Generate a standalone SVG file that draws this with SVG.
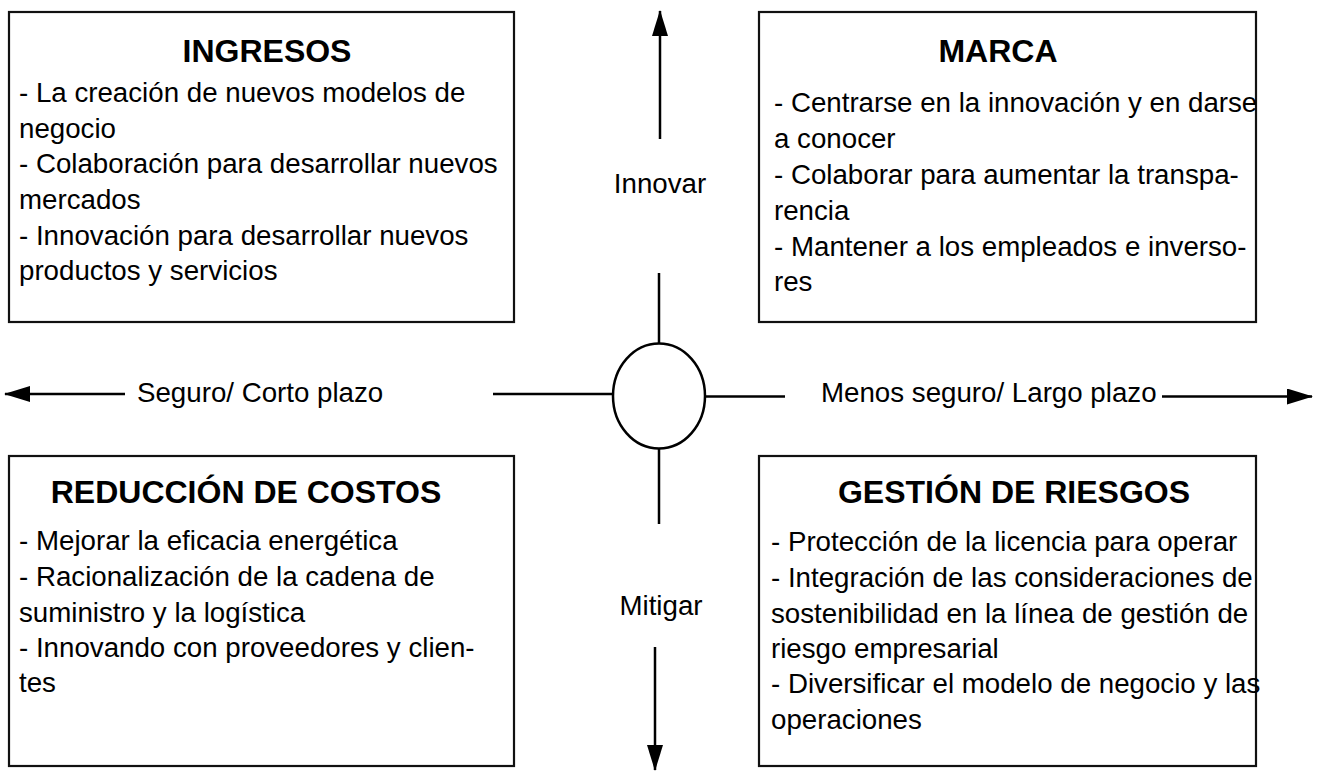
<svg xmlns="http://www.w3.org/2000/svg" width="1325" height="771" viewBox="0 0 1325 771">
<style>
.box{fill:#fff;stroke:#111;stroke-width:2.2}
.t{font-family:"Liberation Sans",Arial,sans-serif;font-weight:bold;font-size:32px;fill:#000;text-anchor:middle}
.b{font-family:"Liberation Sans",Arial,sans-serif;font-size:27.7px;fill:#000}
.lbl{font-family:"Liberation Sans",Arial,sans-serif;font-size:27.7px;fill:#000}
.ln{stroke:#000;stroke-width:2.5;fill:none}
</style>
<defs>
<marker id="ah" markerUnits="userSpaceOnUse" markerWidth="26" markerHeight="16" refX="25" refY="8" orient="auto">
<path d="M0,0 L26,8 L0,16 Z" fill="#000"/>
</marker>
</defs>
<rect width="1325" height="771" fill="#fff"/>
<g id="ingresos">
<rect class="box" x="9" y="12" width="505" height="310"/>
<text class="t" x="267" y="62">INGRESOS</text>
<text class="b" x="19" y="102">- La creación de nuevos modelos de</text>
<text class="b" x="19" y="137.5">negocio</text>
<text class="b" x="19" y="173">- Colaboración para desarrollar nuevos</text>
<text class="b" x="19" y="209">mercados</text>
<text class="b" x="19" y="244.5">- Innovación para desarrollar nuevos</text>
<text class="b" x="19" y="280">productos y servicios</text>
</g>
<g id="marca">
<rect class="box" x="759" y="12" width="497" height="310"/>
<text class="t" x="998" y="62">MARCA</text>
<text class="b" x="774" y="112">- Centrarse en la innovación y en darse</text>
<text class="b" x="774" y="148">a conocer</text>
<text class="b" x="774" y="184">- Colaborar para aumentar la transpa-</text>
<text class="b" x="774" y="220">rencia</text>
<text class="b" x="774" y="256">- Mantener a los empleados e inverso-</text>
<text class="b" x="774" y="291">res</text>
</g>
<g id="reduccion">
<rect class="box" x="9" y="456" width="505" height="310"/>
<text class="t" x="246" y="503">REDUCCIÓN DE COSTOS</text>
<text class="b" x="19" y="550">- Mejorar la eficacia energética</text>
<text class="b" x="19" y="586">- Racionalización de la cadena de</text>
<text class="b" x="19" y="622">suministro y la logística</text>
<text class="b" x="19" y="657">- Innovando con proveedores y clien-</text>
<text class="b" x="19" y="692">tes</text>
</g>
<g id="gestion">
<rect class="box" x="759" y="456" width="497" height="310"/>
<text class="t" x="1014" y="503">GESTIÓN DE RIESGOS</text>
<text class="b" x="771" y="551">- Protección de la licencia para operar</text>
<text class="b" x="771" y="587">- Integración de las consideraciones de</text>
<text class="b" x="771" y="623">sostenibilidad en la línea de gestión de</text>
<text class="b" x="771" y="658">riesgo empresarial</text>
<text class="b" x="771" y="693">- Diversificar el modelo de negocio y las</text>
<text class="b" x="771" y="729">operaciones</text>
</g>
<g id="centro">
<ellipse cx="659" cy="396" rx="46" ry="52.5" fill="#fff" stroke="#000" stroke-width="2.5"/>
</g>
<g id="connectors">
<line class="ln" x1="660" y1="139" x2="660" y2="11" marker-end="url(#ah)"/>
<line class="ln" x1="659" y1="273" x2="659" y2="344"/>
<line class="ln" x1="659" y1="449" x2="659" y2="524"/>
<line class="ln" x1="655" y1="647" x2="655" y2="770" marker-end="url(#ah)"/>
<line class="ln" x1="125" y1="394" x2="5" y2="394" marker-end="url(#ah)"/>
<line class="ln" x1="493" y1="394" x2="613" y2="394"/>
<line class="ln" x1="705" y1="396.5" x2="785" y2="396.5"/>
<line class="ln" x1="1162" y1="396.5" x2="1312" y2="396.5" marker-end="url(#ah)"/>
</g>
<g id="labels">
<text class="lbl" x="660" y="193" text-anchor="middle">Innovar</text>
<text class="lbl" x="661" y="615" text-anchor="middle">Mitigar</text>
<text class="lbl" x="137" y="402">Seguro/ Corto plazo</text>
<text class="lbl" x="821" y="402">Menos seguro/ Largo plazo</text>
</g>
</svg>
